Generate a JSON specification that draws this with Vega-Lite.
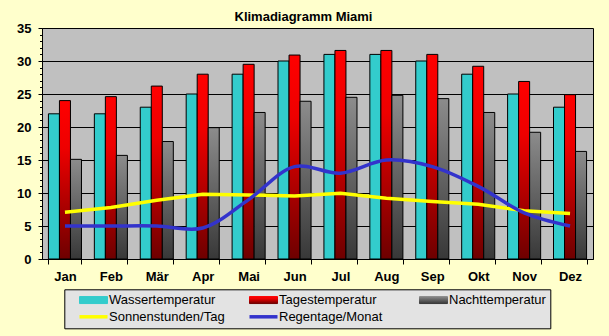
{
  "$schema": "https://vega.github.io/schema/vega-lite/v6.json",
  "width": 551,
  "height": 231,
  "autosize": {"type": "none"},
  "padding": {"left": 42, "top": 28, "right": 16, "bottom": 77},
  "background": "#FFFFCC",
  "title": {
    "text": "Klimadiagramm Miami",
    "font": "Liberation Sans",
    "fontSize": 13,
    "fontWeight": "bold",
    "color": "black",
    "anchor": "middle",
    "dx": -14,
    "dy": 18.5,
    "offset": 7,
    "baseline": "alphabetic"
  },
  "config": {
    "view": {"fill": "#C0C0C0", "stroke": "black", "strokeWidth": 1}
  },
  "data": {
    "values": [
      {"Monat": "Jan", "Reihe": "Wassertemperatur", "Wert": 22},
      {"Monat": "Feb", "Reihe": "Wassertemperatur", "Wert": 22},
      {"Monat": "Mär", "Reihe": "Wassertemperatur", "Wert": 23},
      {"Monat": "Apr", "Reihe": "Wassertemperatur", "Wert": 25},
      {"Monat": "Mai", "Reihe": "Wassertemperatur", "Wert": 28},
      {"Monat": "Jun", "Reihe": "Wassertemperatur", "Wert": 30},
      {"Monat": "Jul", "Reihe": "Wassertemperatur", "Wert": 31},
      {"Monat": "Aug", "Reihe": "Wassertemperatur", "Wert": 31},
      {"Monat": "Sep", "Reihe": "Wassertemperatur", "Wert": 30},
      {"Monat": "Okt", "Reihe": "Wassertemperatur", "Wert": 28},
      {"Monat": "Nov", "Reihe": "Wassertemperatur", "Wert": 25},
      {"Monat": "Dez", "Reihe": "Wassertemperatur", "Wert": 23},
      {"Monat": "Jan", "Reihe": "Tagestemperatur", "Wert": 24},
      {"Monat": "Feb", "Reihe": "Tagestemperatur", "Wert": 24.6},
      {"Monat": "Mär", "Reihe": "Tagestemperatur", "Wert": 26.2},
      {"Monat": "Apr", "Reihe": "Tagestemperatur", "Wert": 28},
      {"Monat": "Mai", "Reihe": "Tagestemperatur", "Wert": 29.5},
      {"Monat": "Jun", "Reihe": "Tagestemperatur", "Wert": 30.9},
      {"Monat": "Jul", "Reihe": "Tagestemperatur", "Wert": 31.6},
      {"Monat": "Aug", "Reihe": "Tagestemperatur", "Wert": 31.6},
      {"Monat": "Sep", "Reihe": "Tagestemperatur", "Wert": 31},
      {"Monat": "Okt", "Reihe": "Tagestemperatur", "Wert": 29.2},
      {"Monat": "Nov", "Reihe": "Tagestemperatur", "Wert": 26.9},
      {"Monat": "Dez", "Reihe": "Tagestemperatur", "Wert": 24.9},
      {"Monat": "Jan", "Reihe": "Nachttemperatur", "Wert": 15.1},
      {"Monat": "Feb", "Reihe": "Nachttemperatur", "Wert": 15.7},
      {"Monat": "Mär", "Reihe": "Nachttemperatur", "Wert": 17.8},
      {"Monat": "Apr", "Reihe": "Nachttemperatur", "Wert": 19.9},
      {"Monat": "Mai", "Reihe": "Nachttemperatur", "Wert": 22.2},
      {"Monat": "Jun", "Reihe": "Nachttemperatur", "Wert": 23.9},
      {"Monat": "Jul", "Reihe": "Nachttemperatur", "Wert": 24.5},
      {"Monat": "Aug", "Reihe": "Nachttemperatur", "Wert": 24.8},
      {"Monat": "Sep", "Reihe": "Nachttemperatur", "Wert": 24.3},
      {"Monat": "Okt", "Reihe": "Nachttemperatur", "Wert": 22.2},
      {"Monat": "Nov", "Reihe": "Nachttemperatur", "Wert": 19.2},
      {"Monat": "Dez", "Reihe": "Nachttemperatur", "Wert": 16.3},
      {"Monat": "Jan", "Reihe": "Sonnenstunden/Tag", "Wert": 7.1},
      {"Monat": "Feb", "Reihe": "Sonnenstunden/Tag", "Wert": 7.8},
      {"Monat": "Mär", "Reihe": "Sonnenstunden/Tag", "Wert": 8.9},
      {"Monat": "Apr", "Reihe": "Sonnenstunden/Tag", "Wert": 9.8},
      {"Monat": "Mai", "Reihe": "Sonnenstunden/Tag", "Wert": 9.7},
      {"Monat": "Jun", "Reihe": "Sonnenstunden/Tag", "Wert": 9.55},
      {"Monat": "Jul", "Reihe": "Sonnenstunden/Tag", "Wert": 9.95},
      {"Monat": "Aug", "Reihe": "Sonnenstunden/Tag", "Wert": 9.2},
      {"Monat": "Sep", "Reihe": "Sonnenstunden/Tag", "Wert": 8.7},
      {"Monat": "Okt", "Reihe": "Sonnenstunden/Tag", "Wert": 8.3},
      {"Monat": "Nov", "Reihe": "Sonnenstunden/Tag", "Wert": 7.3},
      {"Monat": "Dez", "Reihe": "Sonnenstunden/Tag", "Wert": 6.9},
      {"Monat": "Jan", "Reihe": "Regentage/Monat", "Wert": 5},
      {"Monat": "Feb", "Reihe": "Regentage/Monat", "Wert": 5},
      {"Monat": "Mär", "Reihe": "Regentage/Monat", "Wert": 5},
      {"Monat": "Apr", "Reihe": "Regentage/Monat", "Wert": 4.7},
      {"Monat": "Mai", "Reihe": "Regentage/Monat", "Wert": 9},
      {"Monat": "Jun", "Reihe": "Regentage/Monat", "Wert": 14},
      {"Monat": "Jul", "Reihe": "Regentage/Monat", "Wert": 13},
      {"Monat": "Aug", "Reihe": "Regentage/Monat", "Wert": 15},
      {"Monat": "Sep", "Reihe": "Regentage/Monat", "Wert": 14},
      {"Monat": "Okt", "Reihe": "Regentage/Monat", "Wert": 11},
      {"Monat": "Nov", "Reihe": "Regentage/Monat", "Wert": 7},
      {"Monat": "Dez", "Reihe": "Regentage/Monat", "Wert": 5}
    ]
  },
  "encoding": {
    "x": {
      "field": "Monat",
      "type": "nominal",
      "sort": ["Jan", "Feb", "Mär", "Apr", "Mai", "Jun", "Jul", "Aug", "Sep", "Okt", "Nov", "Dez"],
      "scale": {"paddingInner": 0.28, "paddingOuter": 0.14},
      "axis": {
        "title": null,
        "labelAngle": 0,
        "tickBand": "extent",
        "tickSize": 5,
        "tickColor": "black",
        "domainColor": "black",
        "labelFont": "Liberation Sans",
        "labelFontSize": 13,
        "labelFontWeight": "bold",
        "labelColor": "black",
        "labelPadding": 6
      }
    },
    "y": {
      "field": "Wert",
      "type": "quantitative",
      "scale": {"domain": [0, 35], "nice": false},
      "axis": {
        "title": null,
        "values": [0,1,2,3,4,5,6,7,8,9,10,11,12,13,14,15,16,17,18,19,20,21,22,23,24,25,26,27,28,29,30,31,32,33,34,35],
        "labelExpr": "datum.value % 5 === 0 ? datum.label : ''",
        "labelOverlap": false,
        "grid": true,
        "gridColor": "black",
        "gridWidth": 1,
        "gridOpacity": {"condition": {"test": "datum.value % 5 === 0 && datum.value > 0 && datum.value < 35", "value": 1}, "value": 0},
        "tickSize": {"condition": {"test": "datum.value % 5 === 0", "value": 4}, "value": 2.5},
        "tickColor": "black",
        "domainColor": "black",
        "labelFont": "Liberation Sans",
        "labelFontSize": 13,
        "labelFontWeight": "bold",
        "labelColor": "black",
        "labelPadding": 7
      }
    },
    "color": {
      "field": "Reihe",
      "type": "nominal",
      "scale": {
        "domain": ["Wassertemperatur", "Tagestemperatur", "Nachttemperatur", "Sonnenstunden/Tag", "Regentage/Monat"],
        "range": [
          "#33CCCC",
          {"expr": "{gradient: 'linear', x1: 0, y1: 0, x2: 0, y2: 1, stops: [{offset: 0, color: '#FF0000'}, {offset: 0.3, color: '#EE0000'}, {offset: 1, color: '#6E0000'}]}"},
          {"expr": "{gradient: 'linear', x1: 0, y1: 0, x2: 0, y2: 1, stops: [{offset: 0, color: '#8C8C8C'}, {offset: 1, color: '#383838'}]}"},
          "#FFFF00",
          "#3333CC"
        ]
      },
      "legend": {
        "title": null,
        "orient": "none",
        "legendX": 22.3,
        "legendY": 261.3,
        "columns": 3,
        "direction": "horizontal",
        "gridAlign": "all",
        "columnPadding": 13,
        "rowPadding": 2,
        "padding": 4,
        "fillColor": "#E3E3E3",
        "strokeColor": "black",
        "labelFont": "Liberation Sans",
        "labelFontSize": 13,
        "labelColor": "black",
        "labelLimit": 300,
        "labelOffset": 27.7,
        "symbolSize": 100,
        "encode": {
          "symbols": {
            "update": {
              "shape": {"signal": "indexof(['Sonnenstunden/Tag','Regentage/Monat'], datum.value) >= 0 ? 'M0.94,0H6.54' : 'M0.94,-0.7H6.54V0.7H0.94Z'"},
              "fill": {"signal": "indexof(['Sonnenstunden/Tag','Regentage/Monat'], datum.value) >= 0 ? 'transparent' : scale('color', datum.value)"},
              "stroke": {"signal": "indexof(['Sonnenstunden/Tag','Regentage/Monat'], datum.value) >= 0 ? scale('color', datum.value) : 'black'"},
              "strokeWidth": {"signal": "indexof(['Sonnenstunden/Tag','Regentage/Monat'], datum.value) >= 0 ? 3.5 : 1"},
              "opacity": {"value": 1},
              "size": {"value": 100}
            }
          }
        }
      }
    }
  },
  "layer": [
    {
      "transform": [{"filter": "indexof(['Wassertemperatur','Tagestemperatur','Nachttemperatur'], datum.Reihe) >= 0"}],
      "mark": {"type": "bar", "stroke": "black", "strokeWidth": 1},
      "encoding": {
        "xOffset": {
          "field": "Reihe",
          "type": "nominal",
          "scale": {"domain": ["Wassertemperatur", "Tagestemperatur", "Nachttemperatur"], "paddingInner": 0, "paddingOuter": 0}
        }
      }
    },
    {
      "transform": [{"filter": "datum.Reihe === 'Sonnenstunden/Tag'"}],
      "mark": {"type": "line", "strokeWidth": 3.5, "interpolate": "linear"},
      "encoding": {}
    },
    {
      "transform": [{"filter": "datum.Reihe === 'Regentage/Monat'"}],
      "mark": {"type": "line", "strokeWidth": 3.5, "interpolate": "catmull-rom"},
      "encoding": {}
    }
  ]
}
